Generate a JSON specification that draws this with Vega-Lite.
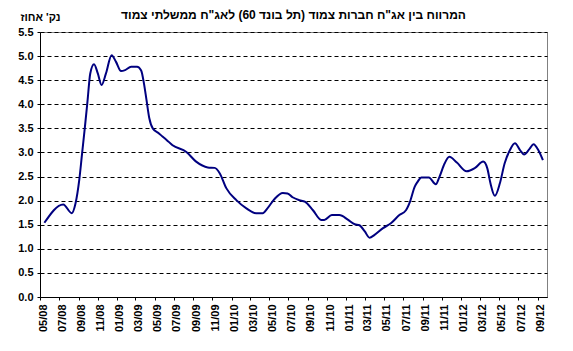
{
  "$schema": "https://vega.github.io/schema/vega-lite/v6.json",
  "width": 507,
  "height": 265,
  "autosize": {"type": "none"},
  "padding": {"left": 40, "top": 32, "right": 26, "bottom": 54},
  "background": "white",
  "title": {
    "text": "המרווח בין אג\"ח חברות צמוד (תל בונד 60) לאג\"ח ממשלתי צמוד",
    "font": "Liberation Sans",
    "fontSize": 12,
    "fontWeight": "bold",
    "color": "black",
    "anchor": "middle",
    "frame": "group",
    "offset": 9,
    "dy": 20
  },
  "config": {
    "view": {"stroke": "#808080", "strokeWidth": 1},
    "axis": {
      "labelFont": "Liberation Sans",
      "labelFontSize": 11,
      "labelFontWeight": "bold",
      "labelColor": "black",
      "domainColor": "black",
      "tickColor": "black",
      "titleFont": "Liberation Sans",
      "titleFontWeight": "bold",
      "titleColor": "black"
    }
  },
  "data": {
    "values": [
      {"date": "2008-05-15", "spread": 1.54},
      {"date": "2008-07-14", "spread": 1.92},
      {"date": "2008-08-10", "spread": 1.74},
      {"date": "2008-08-22", "spread": 1.94},
      {"date": "2008-09-03", "spread": 2.43},
      {"date": "2008-09-12", "spread": 2.98},
      {"date": "2008-09-21", "spread": 3.53},
      {"date": "2008-09-29", "spread": 4.05},
      {"date": "2008-10-08", "spread": 4.64},
      {"date": "2008-10-20", "spread": 4.83},
      {"date": "2008-11-01", "spread": 4.64},
      {"date": "2008-11-13", "spread": 4.40},
      {"date": "2008-11-27", "spread": 4.64},
      {"date": "2008-12-15", "spread": 5.02},
      {"date": "2008-12-29", "spread": 4.88},
      {"date": "2009-01-14", "spread": 4.69},
      {"date": "2009-01-27", "spread": 4.71},
      {"date": "2009-02-15", "spread": 4.78},
      {"date": "2009-03-06", "spread": 4.78},
      {"date": "2009-03-19", "spread": 4.70},
      {"date": "2009-03-28", "spread": 4.43},
      {"date": "2009-04-05", "spread": 4.09},
      {"date": "2009-04-14", "spread": 3.71},
      {"date": "2009-04-25", "spread": 3.50},
      {"date": "2009-05-14", "spread": 3.40},
      {"date": "2009-05-26", "spread": 3.33},
      {"date": "2009-06-08", "spread": 3.26},
      {"date": "2009-06-27", "spread": 3.15},
      {"date": "2009-08-10", "spread": 3.01},
      {"date": "2009-09-10", "spread": 2.81},
      {"date": "2009-10-17", "spread": 2.69},
      {"date": "2009-11-08", "spread": 2.68},
      {"date": "2009-11-24", "spread": 2.57},
      {"date": "2009-12-15", "spread": 2.26},
      {"date": "2010-01-16", "spread": 2.01},
      {"date": "2010-02-17", "spread": 1.84},
      {"date": "2010-03-19", "spread": 1.74},
      {"date": "2010-04-10", "spread": 1.74},
      {"date": "2010-04-25", "spread": 1.84},
      {"date": "2010-05-17", "spread": 2.03},
      {"date": "2010-06-13", "spread": 2.16},
      {"date": "2010-06-28", "spread": 2.15},
      {"date": "2010-07-14", "spread": 2.07},
      {"date": "2010-08-05", "spread": 2.01},
      {"date": "2010-08-22", "spread": 1.98},
      {"date": "2010-09-17", "spread": 1.80},
      {"date": "2010-10-13", "spread": 1.60},
      {"date": "2010-10-23", "spread": 1.60},
      {"date": "2010-11-16", "spread": 1.70},
      {"date": "2010-12-10", "spread": 1.70},
      {"date": "2011-01-07", "spread": 1.60},
      {"date": "2011-01-28", "spread": 1.51},
      {"date": "2011-02-12", "spread": 1.49},
      {"date": "2011-03-01", "spread": 1.36},
      {"date": "2011-03-16", "spread": 1.23},
      {"date": "2011-04-01", "spread": 1.29},
      {"date": "2011-04-28", "spread": 1.43},
      {"date": "2011-05-23", "spread": 1.53},
      {"date": "2011-06-19", "spread": 1.70},
      {"date": "2011-07-10", "spread": 1.80},
      {"date": "2011-07-23", "spread": 1.98},
      {"date": "2011-08-07", "spread": 2.29},
      {"date": "2011-08-16", "spread": 2.39},
      {"date": "2011-08-28", "spread": 2.48},
      {"date": "2011-09-21", "spread": 2.48},
      {"date": "2011-10-13", "spread": 2.34},
      {"date": "2011-10-25", "spread": 2.50},
      {"date": "2011-11-10", "spread": 2.77},
      {"date": "2011-11-25", "spread": 2.91},
      {"date": "2011-12-19", "spread": 2.79},
      {"date": "2012-01-19", "spread": 2.61},
      {"date": "2012-02-15", "spread": 2.68},
      {"date": "2012-03-12", "spread": 2.81},
      {"date": "2012-03-25", "spread": 2.67},
      {"date": "2012-04-04", "spread": 2.36},
      {"date": "2012-04-18", "spread": 2.10},
      {"date": "2012-05-04", "spread": 2.36},
      {"date": "2012-05-19", "spread": 2.77},
      {"date": "2012-06-05", "spread": 3.05},
      {"date": "2012-06-21", "spread": 3.19},
      {"date": "2012-07-07", "spread": 3.05},
      {"date": "2012-07-20", "spread": 2.96},
      {"date": "2012-08-07", "spread": 3.08},
      {"date": "2012-08-19", "spread": 3.17},
      {"date": "2012-09-04", "spread": 3.04},
      {"date": "2012-09-18", "spread": 2.84}
    ]
  },
  "mark": {"type": "line", "color": "#000080", "strokeWidth": 2, "interpolate": "monotone"},
  "encoding": {
    "x": {
      "field": "date",
      "type": "temporal",
      "scale": {
        "type": "utc",
        "domain": [
          {"year": 2008, "month": 5, "date": 1, "utc": true},
          {"year": 2012, "month": 10, "date": 1, "utc": true}
        ]
      },
      "axis": {
        "title": null,
        "format": "%m/%y",
        "tickCount": {"interval": "month", "step": 2},
        "labelAngle": -90,
        "labelOffset": 3,
        "labelPadding": 4,
        "tickSize": 3,
        "grid": false,
        "labelOverlap": false,
        "labelFlush": false
      }
    },
    "y": {
      "field": "spread",
      "type": "quantitative",
      "scale": {"domain": [0, 5.5], "nice": false, "zero": true},
      "axis": {
        "title": "נק' אחוז",
        "titleAngle": 0,
        "titleFontSize": 11,
        "titleAlign": "left",
        "titleBaseline": "middle",
        "titleX": -20,
        "titleY": -15,
        "values": [0, 0.5, 1, 1.5, 2, 2.5, 3, 3.5, 4, 4.5, 5, 5.5],
        "format": ".1f",
        "tickSize": 3,
        "labelPadding": 4,
        "grid": true,
        "gridColor": "black",
        "gridDash": [4, 3],
        "gridWidth": 1,
        "labelOverlap": false,
        "labelFlush": false
      }
    }
  }
}
